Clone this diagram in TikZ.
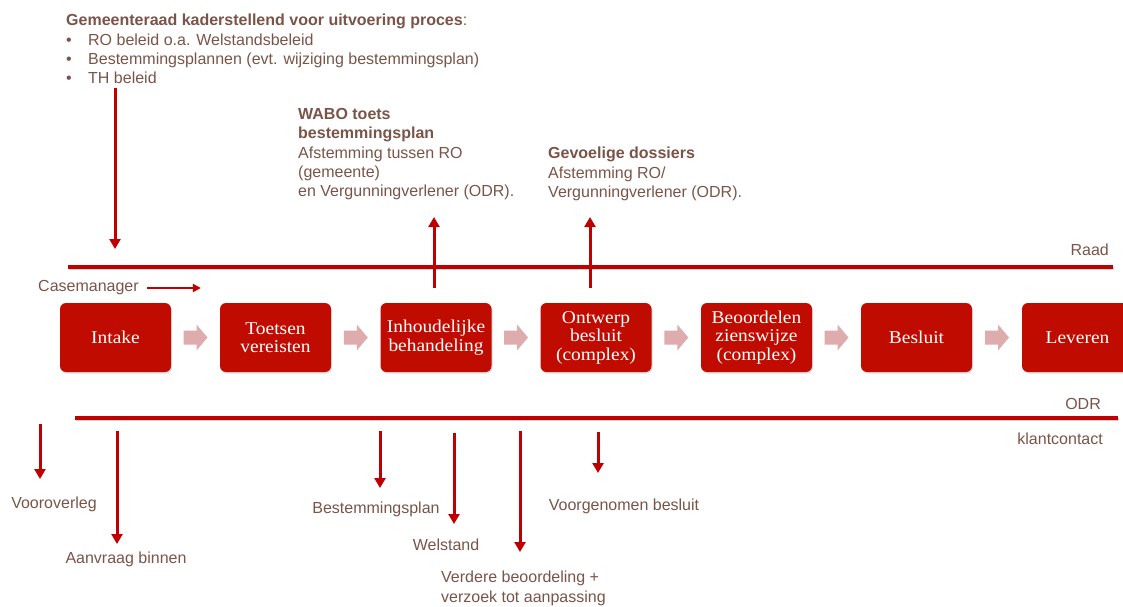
\documentclass[tikz,border=0pt]{standalone}
\usepackage{fontspec}
\setmainfont{Liberation Sans}
\newfontfamily\boxfont[FakeStretch=1.08]{Liberation Serif}
\usetikzlibrary{arrows.meta,shadows,calc}
\definecolor{txt}{RGB}{122,84,72}
\definecolor{dred}{RGB}{192,0,0}
\definecolor{boxred}{RGB}{192,12,0}
\definecolor{chevcol}{RGB}{222,172,172}
\begin{document}
\begin{tikzpicture}[x=1pt,y=-1pt,
  lbl/.style={text=txt, font=\fontsize{16}{19.4}\selectfont, inner sep=0pt, align=left},
  stepbox/.style={fill=boxred, rounded corners=6pt, minimum width=111pt, minimum height=69pt,
    text=white, font=\boxfont\fontsize{18}{18.5}\selectfont, align=center, inner sep=2pt,
    drop shadow={shadow xshift=1pt, shadow yshift=-1.5pt, opacity=0.25}},
  redarrow/.style={draw=dred, line width=3pt, -{Triangle[width=11pt,length=10pt]}},
  hline/.style={draw=dred, line width=3.2pt},
  hshadow/.style={draw=black, opacity=0.18, line width=3pt},
  chevpic/.pic={\fill[chevcol] (-12,-7) -- (1,-7) -- (1,-13) -- (12,0) -- (1,13) -- (1,7) -- (-12,7) -- cycle;}]
\useasboundingbox (0,0) rectangle (1123,606);
\clip (0,0) rectangle (1123,606);

% top-left text
\node[lbl, anchor=north west] (kader) at (66,14) {\textbf{Gemeenteraad kaderstellend voor uitvoering proces}:\\
\makebox[22pt][l]{\textbullet}RO beleid o.a. Welstandsbeleid\\
\makebox[22pt][l]{\textbullet}Bestemmingsplannen (evt. wijziging bestemmingsplan)\\
\makebox[22pt][l]{\textbullet}TH beleid};

\node[lbl, anchor=north west] (wabo) at (298,108) {\textbf{WABO toets}\\ \textbf{bestemmingsplan}\\ Afstemming tussen RO\\ (gemeente)\\ en Vergunningverlener (ODR).};
\node[lbl, anchor=north west] (gev) at (548,147) {\textbf{Gevoelige dossiers}\\ Afstemming RO/\\ Vergunningverlener (ODR).};

% horizontal lines
\coordinate (raadL) at (68,267);
\coordinate (raadR) at (1113,267);
\draw[hshadow] ([shift={(1,1.5)}]raadL) -- ([shift={(1,1.5)}]raadR);
\draw[hline] (raadL) -- (raadR);
\node[lbl, anchor=east] (raad) at (1109,250) {Raad};

\coordinate (odrL) at (75,418);
\coordinate (odrR) at (1118,418);
\draw[hshadow] ([shift={(1,1.5)}]odrL) -- ([shift={(1,1.5)}]odrR);
\draw[hline] (odrL) -- (odrR);
\node[lbl, anchor=east] (odr) at (1101,404) {ODR};
\node[lbl, anchor=east] (klant) at (1103,439) {klantcontact};

% casemanager
\node[lbl, anchor=west] (case) at (38,288) {Casemanager};
\draw[draw=dred, line width=2.4pt, -{Triangle[width=8pt,length=8pt]}] ([xshift=8pt]case.east) -- ([xshift=62pt]case.east);

% process boxes
\node[stepbox] (intake) at (115.5,337.5) {Intake};
\node[stepbox] (toets) at (275.5,337.5) {Toetsen\\vereisten};
\node[stepbox] (inh) at (436,337.5) {Inhoudelijke\\behandeling};
\node[stepbox] (ontw) at (596,337.5) {Ontwerp\\besluit\\(complex)};
\node[stepbox] (beo) at (756.5,337.5) {Beoordelen\\zienswijze\\(complex)};
\node[stepbox] (bes) at (916.5,337.5) {Besluit};
\node[stepbox] (lev) at (1077.5,337.5) {Leveren};

\foreach \a/\b in {intake/toets, toets/inh, inh/ontw, ontw/beo, beo/bes, bes/lev}
  \pic at ($(\a.east)!0.5!(\b.west)$) {chevpic};

% top arrows
\draw[redarrow] (115,88) coordinate (k1) -- (115,249) coordinate (k2);
\draw[redarrow] (434,288) coordinate (w1) -- (434,217) coordinate (w2);
\draw[redarrow] (590,288) coordinate (g1) -- (590,217) coordinate (g2);

% bottom labels
\node[lbl] (voor) at (54,504) {Vooroverleg};
\node[lbl] (aanv) at (126,559) {Aanvraag binnen};
\node[lbl] (bp) at (376,509) {Bestemmingsplan};
\node[lbl] (wel) at (446,545) {Welstand};
\node[lbl, anchor=north west] (verd) at (441,571) {Verdere beoordeling +\\verzoek tot aanpassing};
\node[lbl] (vg) at (624,506) {Voorgenomen besluit};

% bottom arrows
\coordinate (a1s) at (40,424);   \coordinate (a1e) at (40,479);
\coordinate (a2s) at (117,431);  \coordinate (a2e) at (117,544);
\coordinate (a3s) at (380,431);  \coordinate (a3e) at (380,488);
\coordinate (a4s) at (454,433);  \coordinate (a4e) at (454,524);
\coordinate (a5s) at (520,431);  \coordinate (a5e) at (520,552);
\coordinate (a6s) at (598,432);  \coordinate (a6e) at (598,473);
\foreach \i in {1,...,6} \draw[redarrow] (a\i s) -- (a\i e);
\end{tikzpicture}
\end{document}
